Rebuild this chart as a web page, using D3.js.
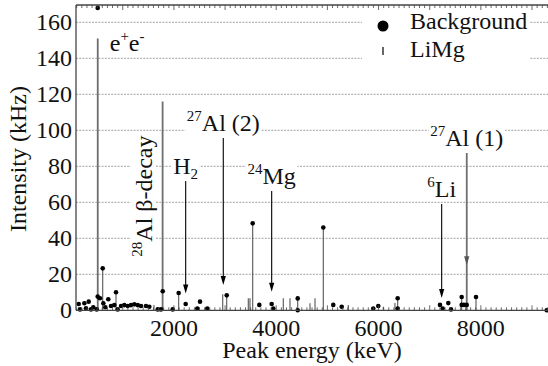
<!DOCTYPE html>
<html>
<head>
<meta charset="utf-8">
<script src="https://cdn.jsdelivr.net/npm/d3@7/dist/d3.min.js"></script>
<style>
  body { margin: 0; background: #fff; }
  svg text { font-family: 'Liberation Serif', 'Times New Roman', serif; fill: #111; }
</style>
</head>
<body>
<svg id="chart" width="548" height="366"></svg>
<script>
// background peaks (dots)
const bgEnergy = [139, 164, 249, 281, 334, 379, 424, 491, 510, 555, 608, 620, 659, 717, 770, 835, 868, 901,
  966, 1030, 1096, 1161, 1226, 1292, 1357, 1454, 1519, 1683, 1747, 1781, 1976, 2093, 2230, 2457, 2510, 2652,
  3032, 3540, 3669, 3911, 3943, 4420, 4420, 4920, 5115, 5280, 5897, 5995, 6374, 6374, 7201, 7254, 7363,
  7416, 7625, 7625, 7670, 7723, 7905, 9287, 510];
const bgIntensity = [3.5, 0.5, 3.9, 1.1, 4.8, 0.5, 1.7, 0.5, 7.6, 6.7, 23.3, 3.9, 1.7, 6.1, 2.4, 2.9, 10, 0.5,
  2.4, 2.9, 2.4, 2.9, 3.3, 2.9, 2.4, 2.4, 2, 0.5, 0.5, 10.6, 0.5, 9.6, 3.5, 1, 4.8, 1,
  8.3, 48.3, 3, 3.5, 1, 6.6, 0, 46, 3, 2, 1, 2.4, 6.7, 1, 3, 1, 4,
  0.5, 7.4, 3, 3, 3, 7.4, 0, 168];

// LiMg lines (impulses)
const limgEnergy = [511, 608, 868, 1610, 1779, 2093, 2954, 3032, 3454, 3487, 3540, 4138, 4269, 4420, 4660,
  4758, 4920, 5409, 6093, 6321, 6374, 7625, 7724, 7905];
const limgIntensity = [151, 23.3, 10, 3, 116, 9.6, 8.9, 8.3, 6.7, 6.7, 48.3, 6.7, 6.7, 6.6, 3.9,
  6.7, 46, 3, 2, 4, 6.7, 7.4, 87.4, 7.4];

// line identifications
const annoEnergy = [511, 1779, 2230, 2965, 3911, 7234, 7724];
const annoTop = [151, 116, 71.8, 95.7, 66.3, 59, 87.4];
const annoTip = [null, null, 9.4, 14, 10.3, 6.8, 25];
const annoLabel = [
  [['e', ''], ['+', 'sup'], ['e', ''], ['-', 'sup']],
  [['28', 'sup'], ['Al \u03b2-decay', '']],
  [['H', ''], ['2', 'sub']],
  [['27', 'sup'], ['Al (2)', '']],
  [['24', 'sup'], ['Mg', '']],
  [['6', 'sup'], ['Li', '']],
  [['27', 'sup'], ['Al (1)', '']]
];
const annoPlace = ['right', 'rotated', 'above', 'above', 'above', 'above', 'above'];

const yTicks = [0, 20, 40, 60, 80, 100, 120, 140, 160];
const xTickLabels = [2000, 4000, 6000, 8000];

const svg = d3.select('#chart');
const plotLeft = 76, plotTop = 5, plotBottom = 310.3;
const fs = 24;
const serif = "'Liberation Serif', 'Times New Roman', serif";

const x = d3.scaleLinear().domain([86, 9500]).range([plotLeft, 557.6]);
const y = d3.scaleLinear().domain([0, 170]).range([plotBottom, plotBottom - 170 * 1.8]);

// grid
svg.append('g')
  .selectAll('line')
  .data(yTicks.filter(d => d > 0))
  .join('line')
  .attr('x1', plotLeft).attr('x2', 548)
  .attr('y1', d => y(d)).attr('y2', d => y(d))
  .attr('stroke', '#8a8a8a')
  .attr('stroke-width', 0.8)
  .attr('stroke-dasharray', '2,1.2');

// LiMg impulses
svg.append('g')
  .selectAll('line')
  .data(limgEnergy)
  .join('line')
  .attr('x1', d => x(d)).attr('x2', d => x(d))
  .attr('y1', y(0))
  .attr('y2', (d, i) => y(limgIntensity[i]))
  .attr('stroke', (d, i) => limgIntensity[i] > 80 ? '#6e6e6e' : '#555')
  .attr('stroke-width', (d, i) => limgIntensity[i] > 80 ? 1.8 : 1.1);

// background dots
svg.append('g')
  .selectAll('circle')
  .data(bgEnergy)
  .join('circle')
  .attr('cx', d => x(d))
  .attr('cy', (d, i) => y(bgIntensity[i]))
  .attr('r', 2.3)
  .attr('fill', '#000');

// annotation arrows
const arrows = svg.append('g');
annoEnergy.forEach((e, i) => {
  if (annoTip[i] === null) return;
  const px = x(e);
  const col = i === 6 ? '#555' : '#000';
  if (i !== 6) {
    arrows.append('line')
      .attr('x1', px).attr('x2', px)
      .attr('y1', y(annoTop[i])).attr('y2', y(annoTip[i]) - 6)
      .attr('stroke', col).attr('stroke-width', 1.1);
  }
  const ty = y(annoTip[i]);
  arrows.append('path')
    .attr('d', `M${px - 2.6},${ty - 9}L${px + 2.6},${ty - 9}L${px},${ty}Z`)
    .attr('fill', col);
});

// labels with white boxes
function addLabel(g, parts, anchor) {
  const t = g.append('text')
    .style('font-family', serif)
    .attr('font-size', fs)
    .attr('text-anchor', anchor);
  let shift = 0;
  parts.forEach(p => {
    const ts = t.append('tspan').text(p[0]);
    let target = 0;
    if (p[1] === 'sup') { ts.attr('font-size', 15); target = -10; }
    if (p[1] === 'sub') { ts.attr('font-size', 15); target = 5; }
    ts.attr('dy', target - shift);
    shift = target;
  });
  const bb = t.node().getBBox();
  g.insert('rect', 'text')
    .attr('x', bb.x - 1.5).attr('y', bb.y + 2)
    .attr('width', bb.width + 3).attr('height', bb.height - 3)
    .attr('fill', '#fff');
}

annoEnergy.forEach((e, i) => {
  const px = x(e), py = y(annoTop[i]);
  if (annoPlace[i] === 'above') {
    addLabel(svg.append('g').attr('transform', `translate(${px},${py - 7})`), annoLabel[i], 'middle');
  } else if (annoPlace[i] === 'right') {
    addLabel(svg.append('g').attr('transform', `translate(${px + 12},${py + 12})`), annoLabel[i], 'start');
  } else {
    addLabel(svg.append('g').attr('transform', `translate(${px - 11},${py + 34}) rotate(-90)`), annoLabel[i], 'end');
  }
});

// legend
const legend = svg.append('g');
legend.append('rect')
  .attr('x', 362).attr('y', 6).attr('width', 168).attr('height', 60)
  .attr('fill', '#fff');
legend.append('circle').attr('cx', 383).attr('cy', 26).attr('r', 5.5).attr('fill', '#000');
legend.append('line').attr('x1', 383).attr('x2', 383).attr('y1', 47).attr('y2', 55)
  .attr('stroke', '#000').attr('stroke-width', 1.2);
legend.append('text').attr('x', 410).attr('y', 29).attr('font-size', fs).style('font-family', serif).text('Background');
legend.append('text').attr('x', 410).attr('y', 57).attr('font-size', fs).style('font-family', serif).text('LiMg');

// frame and ticks
const frame = svg.append('g').attr('stroke', '#444');
frame.append('line').attr('x1', plotLeft).attr('x2', plotLeft).attr('y1', plotTop).attr('y2', plotBottom).attr('stroke-width', 1.3);
frame.append('line').attr('x1', plotLeft).attr('x2', 548).attr('y1', plotTop).attr('y2', plotTop).attr('stroke-width', 1.3);
frame.append('line').attr('x1', plotLeft).attr('x2', 548).attr('y1', plotBottom).attr('y2', plotBottom).attr('stroke-width', 1.3);

const minor = d3.range(100, 9500, 100);
frame.append('g').selectAll('line').data(minor).join('line')
  .attr('x1', d => x(d)).attr('x2', d => x(d))
  .attr('y1', plotBottom).attr('y2', d => plotBottom - (d % 1000 === 0 ? 5 : 3))
  .attr('stroke-width', 0.8);
frame.append('g').selectAll('line').data(minor).join('line')
  .attr('x1', d => x(d)).attr('x2', d => x(d))
  .attr('y1', plotTop).attr('y2', d => plotTop + (d % 1000 === 0 ? 5 : 3))
  .attr('stroke-width', 0.8);

// tick labels
svg.append('g').selectAll('text').data(yTicks).join('text')
  .attr('x', 72).attr('y', d => y(d) + 7.5)
  .attr('text-anchor', 'end').attr('font-size', fs)
  .style('font-family', serif)
  .text(d => d);
svg.append('g').selectAll('text').data(xTickLabels).join('text')
  .attr('x', d => x(d)).attr('y', 336)
  .attr('text-anchor', 'middle').attr('font-size', fs)
  .style('font-family', serif)
  .text(d => d);

// axis titles
svg.append('text')
  .attr('x', 312).attr('y', 358)
  .attr('text-anchor', 'middle').attr('font-size', fs)
  .style('font-family', serif)
  .text('Peak energy (keV)');
svg.append('text')
  .attr('transform', 'translate(26,159) rotate(-90)')
  .attr('text-anchor', 'middle').attr('font-size', fs)
  .style('font-family', serif)
  .text('Intensity (kHz)');
</script>
</body>
</html>
